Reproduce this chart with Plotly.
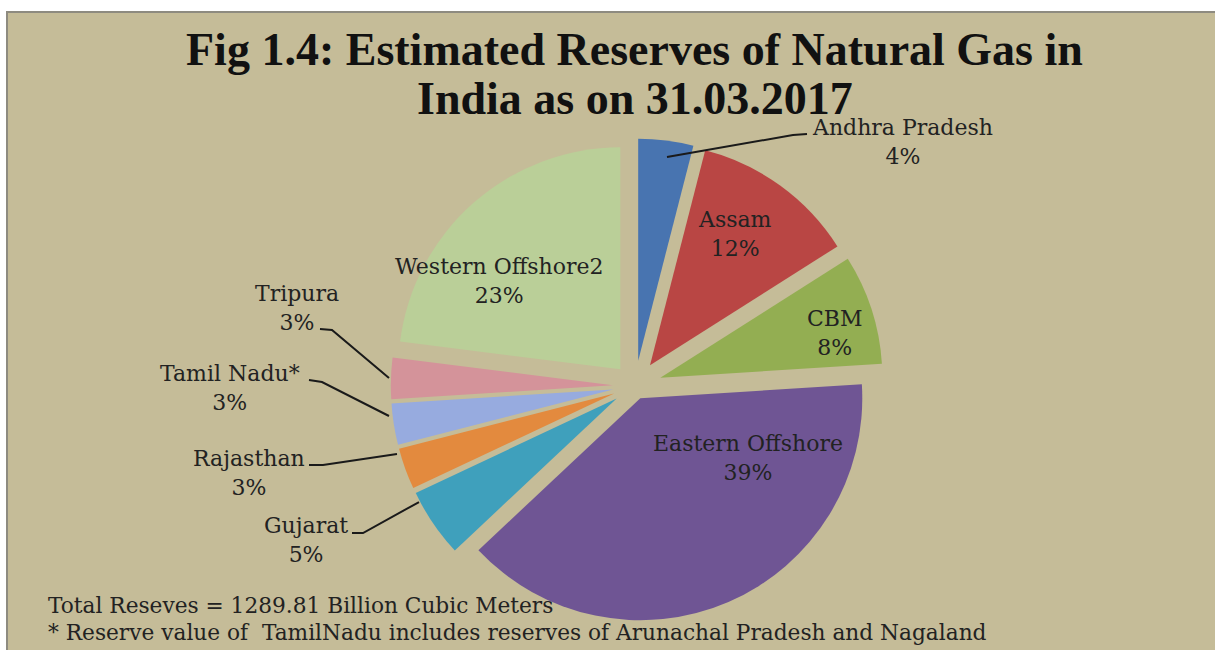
import plotly.graph_objects as go

# Natural gas reserve shares by region (percent), clockwise from 12 o'clock
regions = ["Andhra Pradesh", "Assam", "CBM", "Eastern Offshore", "Gujarat",
           "Rajasthan", "Tamil Nadu*", "Tripura", "Western Offshore2"]
shares = [4, 12, 8, 39, 5, 3, 3, 3, 23]
colors = ["#4874B0", "#B94644", "#93AE52", "#6F5594", "#3FA0BC",
          "#E38A3E", "#97ABDF", "#D4939A", "#BACF98"]
pulls = [0.115, 0.115, 0.12, 0.06, 0.10, 0.10, 0.10, 0.10, 0.10]

title_lines = ["Fig 1.4: Estimated Reserves of Natural Gas in",
               "India as on 31.03.2017"]
footnotes = ["Total Reseves = 1289.81 Billion Cubic Meters",
             "* Reserve value of \u00a0TamilNadu includes reserves of Arunachal Pradesh and Nagaland"]

W, H = 1215, 650
BG = "#C5BC98"
LABEL_FONT = "DejaVu Serif"


def px(x, y):
    return x / W, 1 - y / H


fig = go.Figure()

# Pie placement: centre and radius in pixels
cx, cy, r = 635, 386, 222
max_pull = max(pulls)
half = r * (1 + max_pull)
fig.add_trace(go.Pie(
    labels=regions,
    values=shares,
    sort=False,
    direction="clockwise",
    rotation=0,
    pull=pulls,
    marker=dict(colors=colors, line=dict(width=0)),
    textinfo="none",
    hoverinfo="label+percent",
    showlegend=False,
    domain=dict(x=[(cx - half) / W, (cx + half) / W],
                y=[(H - cy - half) / H, (H - cy + half) / H]),
))

# Label positions (pixel centres) for each slice
label_pos = {
    "Andhra Pradesh": (902, 142),
    "Assam": (735, 234),
    "CBM": (835, 333),
    "Eastern Offshore": (748, 458),
    "Gujarat": (306, 540),
    "Rajasthan": (249, 473),
    "Tamil Nadu*": (230, 388),
    "Tripura": (297, 308),
    "Western Offshore2": (499, 281),
}

annotations = []
for name, val in zip(regions, shares):
    x, y = px(*label_pos[name])
    annotations.append(dict(
        x=x, y=y, xref="paper", yref="paper",
        text=f"{name}<br>{val}%", showarrow=False,
        font=dict(family=LABEL_FONT, size=22, color="#222222"),
        xanchor="center", yanchor="middle", align="center",
    ))

# Title, two lines
for line, yc in zip(title_lines, (50, 98.5)):
    x, y = px(635, yc)
    annotations.append(dict(
        x=x, y=y, xref="paper", yref="paper", text=f"<b>{line}</b>",
        showarrow=False, xanchor="center", yanchor="middle",
        font=dict(family="Liberation Serif", size=46, color="#111111"),
    ))

# Footnotes
for line, yc in zip(footnotes, (605, 632)):
    x, y = px(46, yc)
    annotations.append(dict(
        x=x, y=y, xref="paper", yref="paper", text=line,
        showarrow=False, xanchor="left", yanchor="middle",
        font=dict(family=LABEL_FONT, size=21.7, color="#222222"),
    ))

shapes = [
    # framed background panel
    dict(type="rect", xref="paper", yref="paper",
         x0=7 / W, x1=1.02, y0=-0.02, y1=1 - 12 / H,
         fillcolor=BG, line=dict(color="#8E8B80", width=2), layer="below"),
]

# Leader lines from outside labels to their slices
leaders = [
    [(807, 134), (793, 135), (667, 157)],
    [(320, 329), (332, 330), (389, 378)],
    [(309, 380), (322, 382), (389, 416)],
    [(309, 465), (323, 465), (397, 454)],
    [(352, 533), (363, 533), (419, 502)],
]
for pts in leaders:
    path = ""
    for i, (x, y) in enumerate(pts):
        fx, fy = px(x, y)
        path += ("M" if i == 0 else " L") + f" {fx:.5f},{fy:.5f}"
    shapes.append(dict(type="path", xref="paper", yref="paper", path=path,
                       line=dict(color="#1a1a1a", width=2)))

fig.update_layout(
    width=W, height=H,
    margin=dict(l=0, r=0, t=0, b=0),
    paper_bgcolor="white",
    plot_bgcolor="white",
    annotations=annotations,
    shapes=shapes,
)

fig.write_html("out.html")
